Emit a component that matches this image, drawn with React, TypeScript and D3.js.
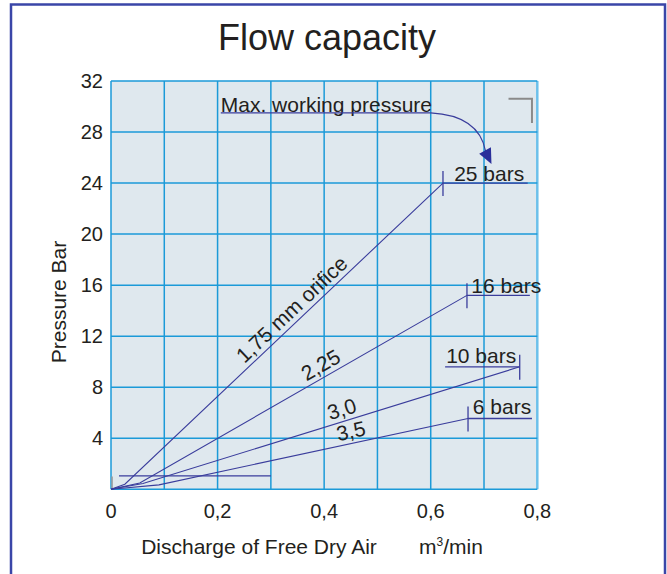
import React from 'react';
import * as d3 from 'd3';

// axis ticks
const xTicks = [0, 0.2, 0.4, 0.6, 0.8];
const xGrid = [0, 0.1, 0.2, 0.3, 0.4, 0.5, 0.6, 0.7, 0.8];
const yTicks = [4, 8, 12, 16, 20, 24, 28, 32];
const yGrid = [0, 4, 8, 12, 16, 20, 24, 28, 32];

// orifice curves: [discharge m3/min, pressure bar]
const orificeNames = ['1,75 mm orifice', '2,25', '3,0', '3,5'];
const orifice175: [number, number][] = [[0, 0], [0.026, 0.4], [0.623, 24]];
const orifice225: [number, number][] = [[0, 0], [0.054, 0.5], [0.668, 15.2]];
const orifice30: [number, number][] = [[0, 0], [0.06, 0.45], [0.767, 9.6]];
const orifice35: [number, number][] = [[0, 0], [0.09, 0.35], [0.67, 5.55]];
const curves = [orifice175, orifice225, orifice30, orifice35];
// where along x each curve label sits
const labelAt = [0.355, 0.405, 0.44, 0.455];

// working pressure marks
const pressureLabels = ['25 bars', '16 bars', '10 bars', '6 bars'];
const markLineTo = [0.782, 0.786, 0.627, 0.79];
const labelX = [0.644, 0.676, 0.629, 0.679];
const labelY = [24.2, 15.4, 9.9, 5.9];

const W = 667;
const H = 574;
const margin = { left: 111, right: 130, top: 80, bottom: 85 };

const x = d3.scaleLinear().domain([0, 0.8]).range([margin.left, W - margin.right + 0.3]);
const y = d3.scaleLinear().domain([0, 32]).range([H - margin.bottom + 0.3, margin.top + 1]);

const lineColor = '#3a3d9c';
const gridColor = '#1b9ad8';
const textColor = '#231f20';
const font = '"Liberation Sans", Arial, sans-serif';

const line = d3.line<[number, number]>().x(d => x(d[0])).y(d => y(d[1]));

const fmt = (v: number) => (v === 0 ? '0' : d3.format('.1f')(v).replace('.', ','));

export default function App() {
  const x0 = x(0), x1 = x(0.8), y0 = y(0), y1 = y(32);
  return (
    <svg width={W} height={H} style={{ position: 'absolute', left: 0, top: 0, background: '#fff' }} fontFamily={font}>
      {/* frame */}
      <path d={`M11,${H + 5} V4.5 H665 V${H + 5}`} fill="none" stroke="#3a46a8" strokeWidth={2.5} />

      <text x={327} y={50} textAnchor="middle" fontSize={36} fill={textColor}>Flow capacity</text>

      {/* plot background and grid */}
      <rect x={x0} y={y1} width={x1 - x0} height={y0 - y1} fill="#dfe8ee" />
      {xGrid.map(v => (
        <line key={'gx' + v} x1={x(v)} x2={x(v)} y1={y1} y2={y0}
          stroke={v === 0.8 ? '#6cc0ea' : gridColor} strokeWidth={v === 0.8 ? 2.5 : 1.5} />
      ))}
      {yGrid.map(v => (
        <line key={'gy' + v} x1={x0} x2={x1} y1={y(v)} y2={y(v)} stroke={gridColor} strokeWidth={1.5} />
      ))}

      {/* tick labels */}
      {yTicks.map(v => (
        <text key={'ty' + v} x={103} y={y(v) + 7} textAnchor="end" fontSize={20} fill={textColor}>{v}</text>
      ))}
      {xTicks.map(v => (
        <text key={'tx' + v} x={x(v)} y={518} textAnchor="middle" fontSize={20} fill={textColor}>{fmt(v)}</text>
      ))}

      <text transform={`translate(66,302) rotate(-90)`} textAnchor="middle" fontSize={21} fill={textColor}>Pressure Bar</text>
      <text x={259} y={554} textAnchor="middle" fontSize={21} fill={textColor}>Discharge of Free Dry Air</text>
      <text x={419} y={554} fontSize={21} fill={textColor}>m<tspan dy={-8} fontSize={12}>3</tspan><tspan dy={8}>/min</tspan></text>

      {/* reference bar near origin */}
      <line x1={x(0.015)} x2={x(0.3)} y1={y(1.05)} y2={y(1.05)} stroke={lineColor} strokeWidth={1.3} />
      <line x1={x(0.002)} x2={x(0.002)} y1={y(0)} y2={y(1)} stroke="#999" strokeWidth={1.5} />

      {/* orifice curves */}
      {curves.map((c, i) => {
        const end = c[c.length - 1];
        const prev = c[c.length - 2];
        const lx = labelAt[i];
        const t = (lx - prev[0]) / (end[0] - prev[0]);
        const ly = prev[1] + t * (end[1] - prev[1]);
        const ang = Math.atan2(y(end[1]) - y(prev[1]), x(end[0]) - x(prev[0])) * 180 / Math.PI;
        return (
          <g key={'c' + i}>
            <path d={line(c) || ''} fill="none" stroke={lineColor} strokeWidth={1.1} />
            <text transform={`translate(${x(lx)},${y(ly)}) rotate(${ang}) translate(0,-5)`}
              textAnchor="middle" fontSize={21} fill={textColor}>{orificeNames[i]}</text>
            <line x1={x(end[0])} x2={x(end[0])} y1={y(end[1]) - 12} y2={y(end[1]) + 13} stroke={lineColor} strokeWidth={1.3} />
            <line x1={x(end[0])} x2={x(markLineTo[i])} y1={y(end[1])} y2={y(end[1])} stroke={lineColor} strokeWidth={1.3} />
            <text x={x(labelX[i])} y={y(labelY[i])} fontSize={21} fill={textColor}>{pressureLabels[i]}</text>
          </g>
        );
      })}

      {/* max working pressure annotation */}
      <text x={x(0.206)} y={y(29.6)} fontSize={21} fill={textColor}>Max. working pressure</text>
      <line x1={x(0.206)} x2={x(0.6)} y1={y(29.5)} y2={y(29.5)} stroke={lineColor} strokeWidth={1.3} />
      <path d={`M${x(0.6)},${y(29.5)} Q${x(0.69)},${y(29.3)} ${x(0.703)},${y(26.5)}`} fill="none" stroke={lineColor} strokeWidth={1.1} />
      <path d={`M${x(0.691)},${y(26.3)} L${x(0.713)},${y(26.8)} L${x(0.714)},${y(25.5)} Z`} fill="#2a2f9a" />

      {/* corner mark */}
      <path d={`M${x(0.746)},${y(30.6)} H${x(0.79)} V${y(28.7)}`} fill="none" stroke="#8a8a8a" strokeWidth={2} />
    </svg>
  );
}
